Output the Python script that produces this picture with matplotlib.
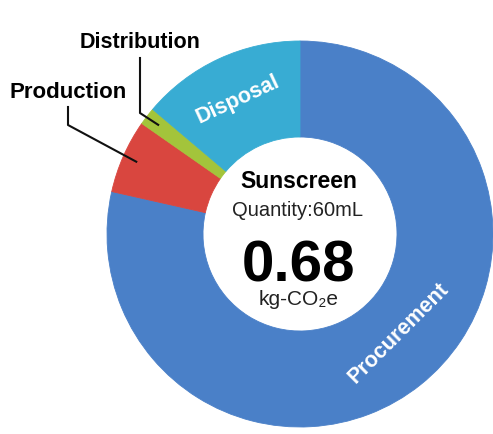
import matplotlib
matplotlib.use("Agg")
import matplotlib.pyplot as plt
import numpy as np

# kg-CO2e by life-cycle stage (clockwise from 12 o'clock)
stages = ['Procurement', 'Production', 'Distribution', 'Disposal']
values = [0.534, 0.042, 0.010, 0.094]
colors = ['#4a80c8', '#d9463f', '#a3c43b', '#38acd3']

product = 'Sunscreen'
quantity = 'Quantity:60mL'
total = '0.68'
unit = 'kg-CO₂e'

plt.rcParams['font.family'] = ['Liberation Sans', 'DejaVu Sans']

W, H = 493, 434
fig = plt.figure(figsize=(W / 100, H / 100), dpi=100)
ax = fig.add_axes([0, 0, 1, 1])

cx, cy = 300, 200
R = 193
wedges, _ = ax.pie(values, colors=colors, radius=R, center=(cx, cy),
                   startangle=90, counterclock=False,
                   wedgeprops=dict(width=96, linewidth=0.6))
for w, c in zip(wedges, colors):
    w.set_edgecolor(c)

ax.set_xlim(0, W)
ax.set_ylim(0, H)
ax.set_aspect('equal')
ax.axis('off')

def mid(w, r):
    a = np.deg2rad((w.theta1 + w.theta2) / 2)
    return cx + r * np.cos(a), cy + r * np.sin(a)

# labels inside ring
ang = np.deg2rad((wedges[3].theta1 + wedges[3].theta2) / 2)
ax.text(cx + 148 * np.cos(ang), cy + 148 * np.sin(ang), stages[3],
        color='white', fontsize=15.5, fontweight='bold', ha='center', va='center',
        rotation=np.rad2deg(ang) - 90, rotation_mode='anchor')
ang = np.deg2rad(-45)
ax.text(cx + 140 * np.cos(ang), cy + 140 * np.sin(ang), stages[0],
        color='white', fontsize=15.5, fontweight='bold', ha='center', va='center',
        rotation=45, rotation_mode='anchor')

# outside labels with leader lines
ax.text(140, 391, stages[2], fontsize=15.5, fontweight='bold', ha='center', va='center')
px, py = mid(wedges[2], 179)
ax.plot([140, 140, px], [376, 321, py], color='#111111', lw=1.5)

ax.text(68, 342, stages[1], fontsize=16, fontweight='bold', ha='center', va='center')
px, py = mid(wedges[1], 179)
ax.plot([68, 68, px], [327, 309, py], color='#111111', lw=1.5)

# centre text
ax.text(298.5, 246, product, fontsize=16.5, fontweight='bold', ha='center', va='baseline')
ax.text(297.5, 218, quantity, fontsize=14.5, ha='center', va='baseline', color='#222222')
ax.text(298.5, 152, total, fontsize=42, fontweight='bold', ha='center', va='baseline')
ax.text(299, 129, unit, fontsize=15, ha='center', va='baseline', color='#222222')

fig.savefig('out.png', dpi=100)
